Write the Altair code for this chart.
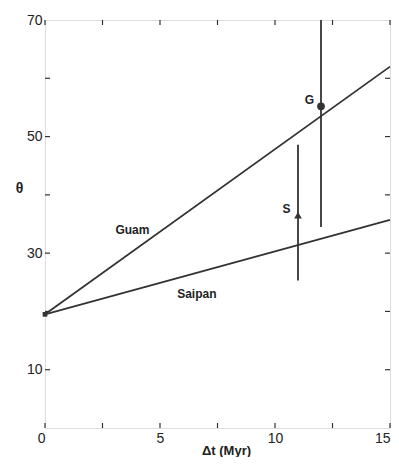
import altair as alt
import pandas as pd

# lines
line_names = ["Guam", "Guam", "Saipan", "Saipan"]
line_x = [0, 15, 0, 15]
line_y = [19.5, 62, 19.5, 35.7]

# error bars with points
pt_names = ["G", "S"]
pt_x = [12, 11]
pt_y = [55.2, 36.5]
pt_lo = [34.5, 25.3]
pt_hi = [70, 48.6]
pt_shape = ["circle", "triangle-up"]

# labels
lab_text = ["Guam", "Saipan", "G", "S"]
lab_x = [3.8, 6.6, 11.5, 10.5]
lab_y = [34, 23, 56.3, 37.5]

origin_x = [0]
origin_y = [19.5]

xticks = [0, 2.5, 5, 7.5, 10, 12.5, 15]
yticks = [10, 20, 30, 40, 50, 60]
xlabels = [0, 5, 10, 15]
ylabels = [10, 30, 50, 70]

W, H = 345, 408
C = "#333333"
lines_df = pd.DataFrame({"name": line_names, "x": line_x, "y": line_y})
pts_df = pd.DataFrame({"name": pt_names, "x": pt_x, "y": pt_y, "lo": pt_lo, "hi": pt_hi, "shape": pt_shape})
lab_df = pd.DataFrame({"t": lab_text, "x": lab_x, "y": lab_y})
org_df = pd.DataFrame({"x": origin_x, "y": origin_y})
xt_df = pd.DataFrame({"v": xticks})
yt_df = pd.DataFrame({"v": yticks})

xs = alt.Scale(domain=[0, 15], nice=False, zero=False)
ys = alt.Scale(domain=[0, 70], nice=False, zero=False)

xaxis = alt.Axis(values=xlabels, ticks=False, domain=False, grid=False, labelFontSize=14,
                 labelColor="#222", labelFont="Liberation Sans", labelFontWeight=500, labelPadding=3,
                 labelAlign=alt.ExprRef(expr="datum.value == 0 || datum.value == 15 ? 'right' : 'center'"),
                 title="Δt (Myr)", titleFont="Liberation Sans", titleFontSize=13,
                 titleFontWeight="bold", titleColor="#222", titleX=181, titleY=16,
                 titleBaseline="top")
yaxis = alt.Axis(values=ylabels, ticks=False, domain=False, grid=False, labelFontSize=14,
                 labelColor="#222", labelFont="Liberation Sans", labelFontWeight=500, labelPadding=3,
                 title="θ", titleAngle=0, titleFont="Liberation Sans", titleFontSize=14,
                 titleFontWeight="bold", titleColor="#222", titleX=-26, titleY=168,
                 titleBaseline="middle")

base_x = alt.X("x:Q", scale=xs, axis=xaxis)
base_y = alt.Y("y:Q", scale=ys, axis=yaxis)

lines = alt.Chart(lines_df).mark_line(color=C, strokeWidth=1.8).encode(
    x=base_x, y=base_y, detail="name:N")

bars = alt.Chart(pts_df).mark_rule(color=C, strokeWidth=1.8).encode(
    x=alt.X("x:Q", scale=xs), y=alt.Y("lo:Q", scale=ys), y2="hi:Q")

pts = alt.Chart(pts_df).mark_point(filled=True, color=C, opacity=1, size=60).encode(
    x=alt.X("x:Q", scale=xs), y=alt.Y("y:Q", scale=ys),
    shape=alt.Shape("shape:N", scale=None))

org = alt.Chart(org_df).mark_square(color=C, opacity=1, size=22).encode(
    x=alt.X("x:Q", scale=xs), y=alt.Y("y:Q", scale=ys))

labs = alt.Chart(lab_df).mark_text(color="#222", font="Liberation Sans", fontWeight="bold",
                                   fontSize=12).encode(
    x=alt.X("x:Q", scale=xs), y=alt.Y("y:Q", scale=ys), text="t:N")

# inward ticks on all four sides
tb = alt.Chart(xt_df).mark_rule(color=C, strokeWidth=1.2).encode(
    x=alt.X("v:Q", scale=xs), y=alt.value(H), y2=alt.value(H - 5))
tt = alt.Chart(xt_df).mark_rule(color=C, strokeWidth=1.2).encode(
    x=alt.X("v:Q", scale=xs), y=alt.value(0), y2=alt.value(5))
tl = alt.Chart(yt_df).mark_rule(color=C, strokeWidth=1.2).encode(
    y=alt.Y("v:Q", scale=ys), x=alt.value(0), x2=alt.value(5))
tr = alt.Chart(yt_df).mark_rule(color=C, strokeWidth=1.2).encode(
    y=alt.Y("v:Q", scale=ys), x=alt.value(W), x2=alt.value(W - 5))

chart = alt.layer(lines, bars, pts, org, labs, tb, tt, tl, tr).properties(
    width=W, height=H,
    autosize=alt.AutoSizeParams(type="none"),
    padding={"left": 37, "top": 12, "right": 1, "bottom": 29},
).configure_view(stroke=C, strokeWidth=2.2).configure(background="white")

chart.save("out.html", embed_options={"renderer": "svg", "actions": False})
